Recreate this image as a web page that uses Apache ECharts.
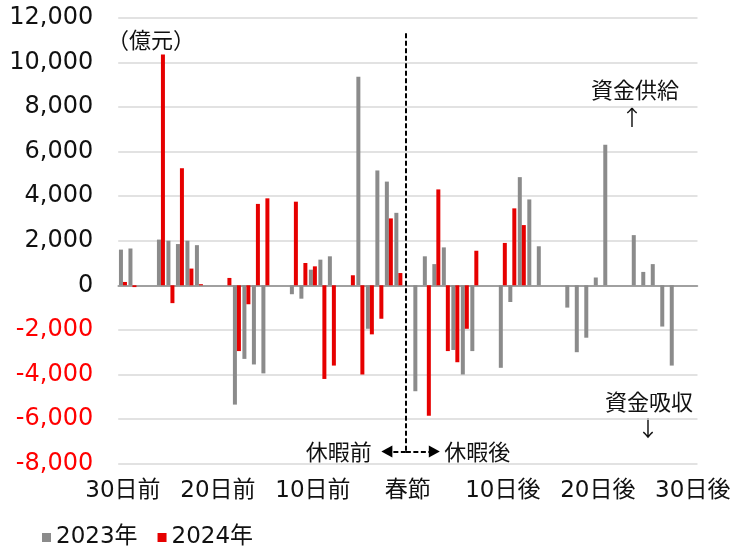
<!DOCTYPE html>
<html>
<head>
<meta charset="utf-8">
<script src="https://cdn.jsdelivr.net/npm/echarts@6/dist/echarts.min.js"></script>
<style>
  html, body { margin: 0; padding: 0; background: #fff; }
  #chart { width: 731px; height: 549px; }
</style>
</head>
<body>
<div id="chart"></div>
<script>
// Days relative to the Spring Festival, -30 .. +30
const dayOffsets = [];
for (let d = -30; d <= 30; d++) dayOffsets.push(d);
const categories = dayOffsets.map(d => d < 0 ? (-d) + '日前' : d === 0 ? '春節' : d + '日後');

// Net liquidity injection (億元) per day, null = no operation that day
const values2023 = [
  1600, 1650, null, null, 2050, 2000, 1850, 2000, 1800, null,
  null, null, -5350, -3300, -3550, -3950, null, null, -400, -600,
  700, 1150, 1300, null, null, 9350, -1950, 5150, 4650, 3250,
  null, -4750, 1300, 950, 1700, -2900, -4000, -2950, null, null,
  -3700, -750, 4850, 3850, 1750, null, null, -1000, -3000, -2350,
  350, 6300, null, null, 2250, 600, 950, -1850, -3600, null,
  null
];
const values2024 = [
  150, -80, null, null, 10350, -800, 5250, 750, 50, null,
  null, 330, -2950, -850, 3650, 3900, null, null, 3750, 1000,
  850, -4200, -3600, null, 450, -4000, -2200, -1500, 3000, 550,
  null, null, -5850, 4300, -2950, -3450, -1950, 1550, null, null,
  1900, 3450, 2700, null, null, null, null, null, null, null,
  null, null, null, null, null, null, null, null, null, null,
  null
];

const seriesNames = ['2023年', '2024年'];
const yTicks = { min: -8000, max: 12000, step: 2000 };
const unitLabel = '（億元）';
const holidayBefore = '休暇前';
const holidayAfter = '休暇後';
const supplyLabel = '資金供給';
const absorbLabel = '資金吸収';

const FONT = "'DejaVu Sans', 'Noto Sans CJK JP', sans-serif";
const CJK = "'Noto Sans CJK JP', sans-serif";
const GRAY = '#8b8b8b';
const RED = '#e60000';
const INK = '#111';

const chart = echarts.init(document.getElementById('chart'), null, { renderer: 'canvas' });

const dashed = [5, 2.5];

chart.setOption({
  animation: false,
  backgroundColor: '#fff',
  textStyle: { fontFamily: FONT, color: INK },
  grid: {
    left: 118.2, right: 33.5, top: 17.7, bottom: 85.3,
    containLabel: false,
    outerBoundsMode: 'none'
  },
  legend: {
    data: seriesNames,
    left: 37,
    top: 521,
    icon: 'rect',
    itemWidth: 9,
    itemHeight: 9,
    itemGap: 20,
    textStyle: { fontSize: 23, fontFamily: FONT, color: INK }
  },
  xAxis: {
    type: 'category',
    data: categories,
    axisLine: { show: true, onZero: true, lineStyle: { color: GRAY, width: 1.5 } },
    axisTick: { show: false },
    axisLabel: {
      interval: 9,
      margin: 16,
      fontSize: 23,
      fontFamily: FONT,
      color: INK
    },
    splitLine: { show: false }
  },
  yAxis: {
    type: 'value',
    min: yTicks.min,
    max: yTicks.max,
    interval: yTicks.step,
    axisLine: { show: false },
    axisTick: { show: false },
    axisLabel: {
      margin: 25,
      fontSize: 24,
      fontFamily: FONT,
      formatter: v => v.toLocaleString('en-US'),
      color: v => (Number(v) < 0 ? '#ff0000' : INK)
    },
    splitLine: { lineStyle: { color: '#d9d9d9', width: 1.5 } }
  },
  series: [
    {
      name: seriesNames[0],
      type: 'bar',
      data: values2023,
      barWidth: 4,
      barGap: '0%',
      itemStyle: { color: GRAY },
      markLine: {
        silent: true,
        animation: false,
        symbol: 'none',
        lineStyle: { color: '#000', width: 2, type: dashed },
        label: { show: false },
        data: [
          [
            { coord: ['春節', 11300], symbol: 'none' },
            { coord: ['春節', -7450], symbol: 'none' }
          ],
          [
            {
              coord: ['春節', -7450], symbol: 'none',
              label: { show: true, position: 'end', formatter: holidayBefore, distance: 15, fontSize: 22, fontFamily: CJK, color: INK }
            },
            { coord: ['2日前', -7450], symbol: 'triangle', symbolSize: [12, 11] }
          ],
          [
            {
              coord: ['春節', -7450], symbol: 'none',
              label: { show: true, position: 'end', formatter: holidayAfter, distance: 10, fontSize: 22, fontFamily: CJK, color: INK }
            },
            { coord: ['3日後', -7450], symbol: 'triangle', symbolSize: [12, 11] }
          ]
        ]
      }
    },
    {
      name: seriesNames[1],
      type: 'bar',
      data: values2024,
      barWidth: 4,
      itemStyle: { color: RED }
    }
  ],
  graphic: [
    {
      type: 'text', x: 107, y: 40,
      style: { text: unitLabel, fontSize: 22, fontFamily: CJK, fill: INK, verticalAlign: 'middle', align: 'left' }
    },
    {
      type: 'text', x: 635, y: 90,
      style: { text: supplyLabel, fontSize: 22, fontFamily: CJK, fill: INK, verticalAlign: 'middle', align: 'center' }
    },
    {
      type: 'text', x: 632, y: 117,
      style: { text: '↑', fontSize: 22, fontFamily: CJK, fill: INK, verticalAlign: 'middle', align: 'center' }
    },
    {
      type: 'text', x: 649, y: 402,
      style: { text: absorbLabel, fontSize: 22, fontFamily: CJK, fill: INK, verticalAlign: 'middle', align: 'center' }
    },
    {
      type: 'text', x: 648, y: 428,
      style: { text: '↓', fontSize: 22, fontFamily: CJK, fill: INK, verticalAlign: 'middle', align: 'center' }
    }
  ]
});
</script>
</body>
</html>
